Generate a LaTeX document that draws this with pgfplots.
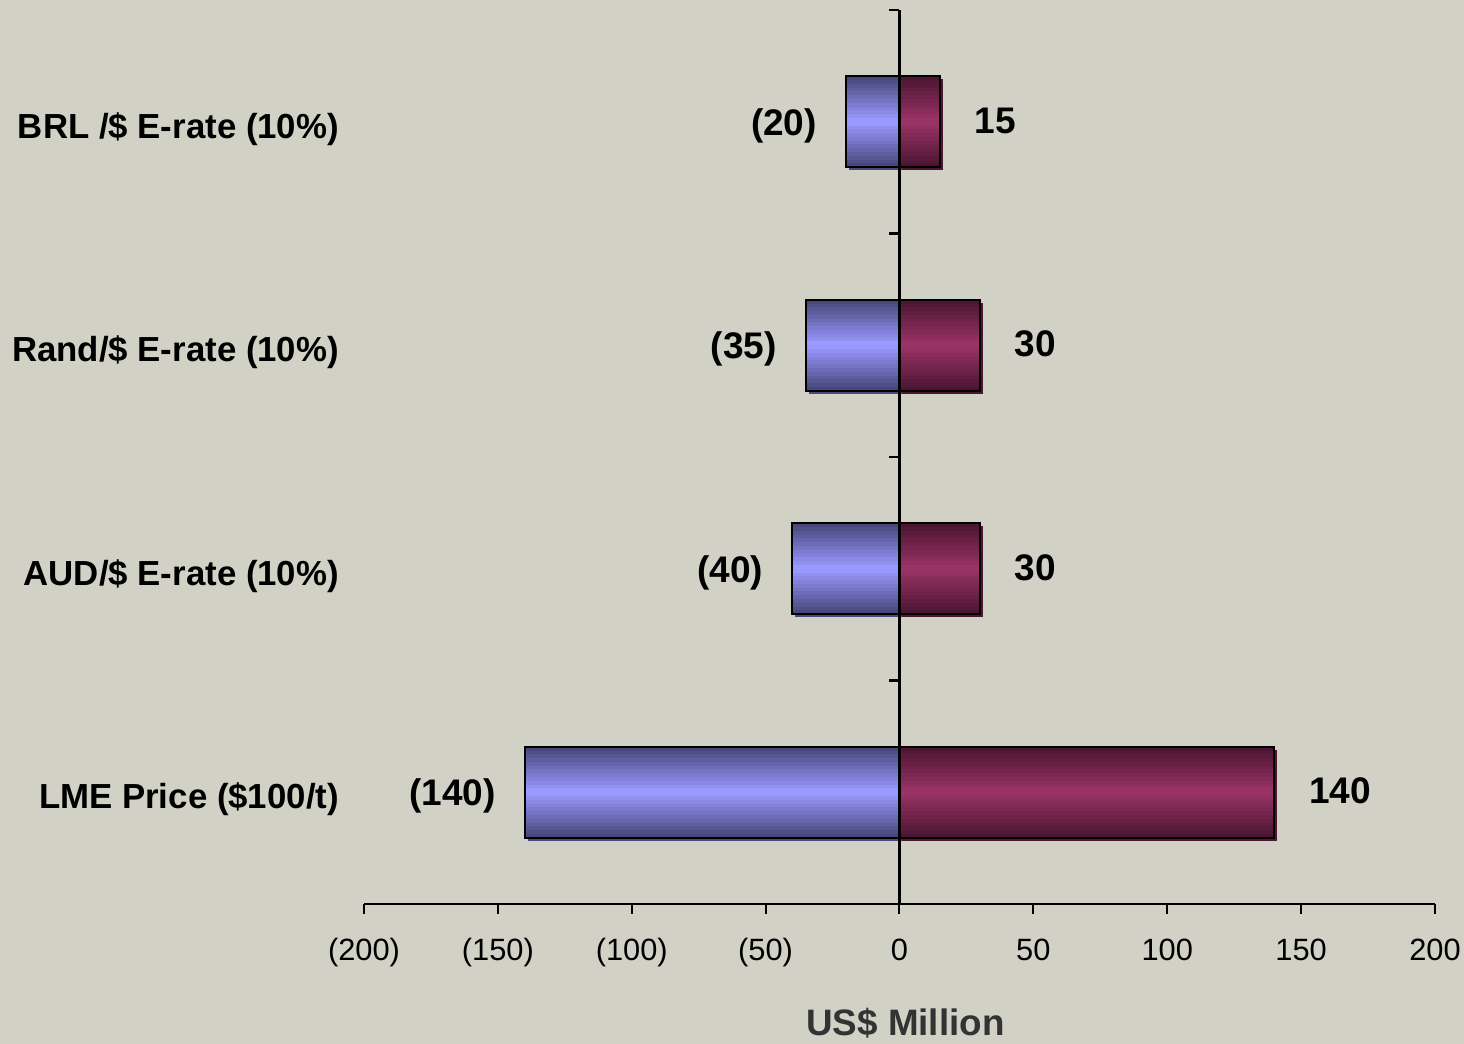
\documentclass[border=0pt]{standalone}
\usepackage{fontspec}
\setmainfont{Liberation Sans}
\usepackage{pgfplots}
\pgfplotsset{compat=1.18}
\usepackage{pgfplotstable}
\definecolor{bg}{RGB}{209,209,197}
\definecolor{blueD}{RGB}{72,72,124}
\definecolor{blueL}{RGB}{153,153,255}
\definecolor{redD}{RGB}{76,22,50}
\definecolor{redL}{RGB}{153,51,102}
\pgfplotstableread{
y neg neglab pos poslab
0.5 -140 (140) 140 140
1.5 -40 (40) 30 30
2.5 -35 (35) 30 30
3.5 -20 (20) 15 15
}\sens
% gradient bar: value, y, dark colour, light colour
\newcommand{\gradbar}[4]{%
  \addplot[xbar, bar shift=0pt, bar width=45.5pt, draw=none, fill=#3, xshift=1.5pt, yshift=-1.5pt] coordinates {(#1,#2)};%
  \pgfplotsforeachungrouped \k in {0,...,11}{%
    \pgfmathsetmacro\w{45.5*(1-\k/12)}%
    \pgfmathtruncatemacro\p{100*\k/11}%
    \edef\cmd{\noexpand\addplot[xbar, bar shift=0pt, bar width=\w pt, draw=none, fill=#4!\p!#3] coordinates {(#1,#2)};}%
    \cmd
  }%
  \addplot[xbar, bar shift=0pt, bar width=45.5pt, draw=black, line width=1pt, fill=none] coordinates {(#1,#2)};%
}
\begin{document}
\begin{tikzpicture}
\path[use as bounding box, fill=bg] (-182pt,-70pt) rectangle (550pt,452pt);
\begin{axis}[
  at={(0,0)}, anchor=south west,
  scale only axis, width=535.5pt, height=447pt,
  xmin=-200, xmax=200, ymin=0, ymax=4,
  axis x line*=bottom, axis y line*=left,
  y axis line style={draw=none},
  x axis line style={line width=1pt},
  tick align=outside, major tick length=5pt,
  xtick={-200,-150,...,200},
  xticklabels={(200),(150),(100),(50),0,50,100,150,200},
  x tick style={line width=1pt, black},
  xticklabel style={font=\fontsize{15.4}{18}\selectfont, anchor=base, yshift=-23.5pt},
  ytick={0.5,1.5,2.5,3.5},
  yticklabels={LME Price (\$100/t), AUD/\$ E-rate (10\%), Rand/\$ E-rate (10\%), BRL /\$ E-rate (10\%)},
  y tick style={draw=none},
  yticklabel style={font=\fontsize{17.4}{20}\selectfont\bfseries, anchor=east, xshift=-4pt, yshift=-3.5pt},
  xlabel={US\$ Million},
  xlabel style={font=\fontsize{18.4}{20}\selectfont\bfseries, text=black!80, at={(rel axis cs:0.5,0)}, anchor=base, yshift=-66pt, xshift=3pt},
  clip=false,
]
\gradbar{-140}{0.5}{blueD}{blueL}
\gradbar{-40}{1.5}{blueD}{blueL}
\gradbar{-35}{2.5}{blueD}{blueL}
\gradbar{-20}{3.5}{blueD}{blueL}
\gradbar{140}{0.5}{redD}{redL}
\gradbar{30}{1.5}{redD}{redL}
\gradbar{30}{2.5}{redD}{redL}
\gradbar{15}{3.5}{redD}{redL}
\addplot[draw=none, mark=none, nodes near coords, point meta=explicit symbolic,
  nodes near coords style={anchor=east, xshift=-11pt, yshift=-2pt, font=\fontsize{18.5}{20}\selectfont\bfseries, text=black}]
  table[x=neg, y=y, meta=neglab]{\sens};
\addplot[draw=none, mark=none, nodes near coords, point meta=explicit symbolic,
  nodes near coords style={anchor=west, xshift=14pt, yshift=0.5pt, font=\fontsize{18.5}{20}\selectfont\bfseries, text=black}]
  table[x=pos, y=y, meta=poslab]{\sens};
\draw[line width=1.2pt] (axis cs:0,0) -- (axis cs:0,4);
\pgfplotsinvokeforeach{1,2,3,4}{\draw[line width=1.2pt] (axis cs:0,#1) -- ([xshift=-5pt]axis cs:0,#1);}
\end{axis}
\end{tikzpicture}
\end{document}
